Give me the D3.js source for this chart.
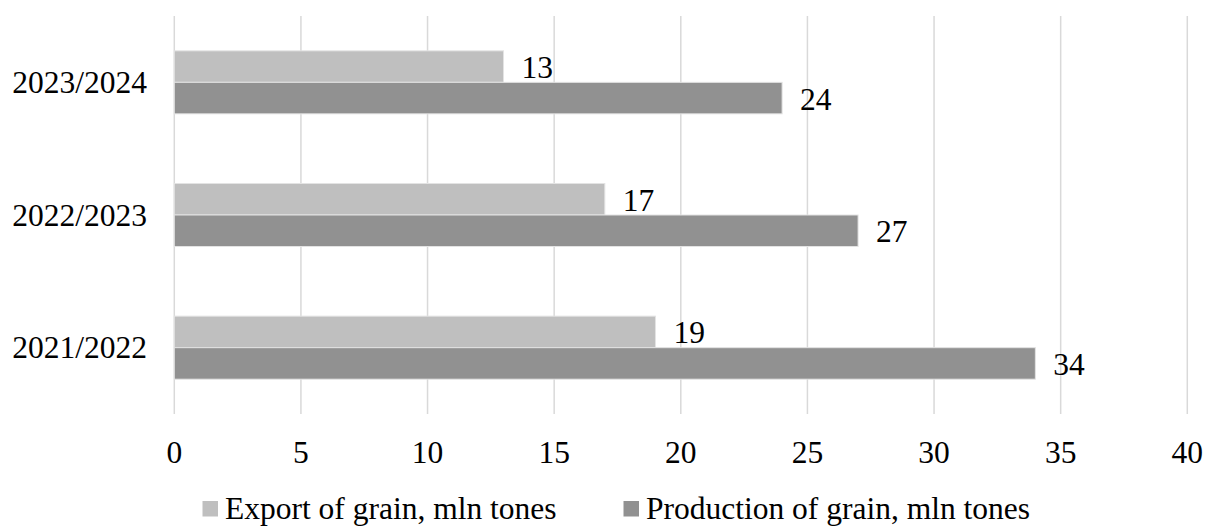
<!DOCTYPE html>
<html>
<head>
<meta charset="utf-8">
<script src="https://cdn.jsdelivr.net/npm/d3@7"></script>
<style>
  html, body { margin: 0; padding: 0; background: #fff; }
  svg { display: block; }
  text { font-family: "Liberation Serif", "Times New Roman", serif; fill: #000; }
</style>
</head>
<body>
<svg id="chart" width="1207" height="526"></svg>
<script>
const categories = ["2023/2024", "2022/2023", "2021/2022"];
const seriesNames = ["Export of grain, mln tones", "Production of grain, mln tones"];
const exportValues = [13, 17, 19];
const productionValues = [24, 27, 34];
const xTicks = [0, 5, 10, 15, 20, 25, 30, 35, 40];

const colors = ["#bfbfbf", "#919191"];
const svg = d3.select("#chart");
const fontSize = 31.5;

const x = d3.scaleLinear().domain([0, 40]).range([174.3, 1187.3]);
const y0 = d3.scaleBand().domain(categories).range([16, 414])
  .paddingInner(0.525).paddingOuter(0.2625);
const y1 = d3.scaleBand().domain([0, 1]).range([0, y0.bandwidth()]);

// gridlines
svg.append("g").selectAll("line").data(xTicks).join("line")
  .attr("x1", d => x(d)).attr("x2", d => x(d))
  .attr("y1", 16).attr("y2", 414)
  .attr("stroke", "#d9d9d9").attr("stroke-width", 1.5);

// x tick labels
svg.append("g").selectAll("text").data(xTicks).join("text")
  .attr("x", d => x(d)).attr("y", 463)
  .attr("text-anchor", "middle")
  .style("font-size", fontSize + "px")
  .text(d => d);

// category labels
svg.append("g").selectAll("text").data(categories).join("text")
  .attr("x", 147).attr("y", d => y0(d) + y0.bandwidth() / 2)
  .attr("text-anchor", "end").attr("dominant-baseline", "central")
  .style("font-size", fontSize + "px")
  .text(d => d);

const rows = categories.map((c, i) => ({ cat: c, vals: [exportValues[i], productionValues[i]] }));

const groups = svg.append("g").selectAll("g").data(rows).join("g")
  .attr("transform", d => `translate(0,${y0(d.cat)})`);

groups.selectAll("rect").data(d => d.vals.map((v, k) => ({ v, k }))).join("rect")
  .attr("x", x(0))
  .attr("y", d => y1(d.k))
  .attr("width", d => x(d.v) - x(0))
  .attr("height", y1.bandwidth())
  .attr("fill", d => colors[d.k])
  .attr("stroke", "#e3e3e3").attr("stroke-width", 1);

groups.selectAll("text").data(d => d.vals.map((v, k) => ({ v, k }))).join("text")
  .attr("x", d => x(d.v) + 18)
  .attr("y", d => y1(d.k) + y1.bandwidth() / 2 + 1)
  .attr("dominant-baseline", "central")
  .style("font-size", fontSize + "px")
  .text(d => d.v);

// legend
const legendItems = [
  { name: seriesNames[0], color: colors[0], sx: 202.5, tx: 225 },
  { name: seriesNames[1], color: colors[1], sx: 623.5, tx: 646 }
];
const lg = svg.append("g").selectAll("g").data(legendItems).join("g");
lg.append("rect").attr("x", d => d.sx).attr("y", 501).attr("width", 15.5).attr("height", 15.5)
  .attr("fill", d => d.color);
lg.append("text").attr("x", d => d.tx).attr("y", 519)
  .style("font-size", fontSize + "px")
  .text(d => d.name);
</script>
</body>
</html>
